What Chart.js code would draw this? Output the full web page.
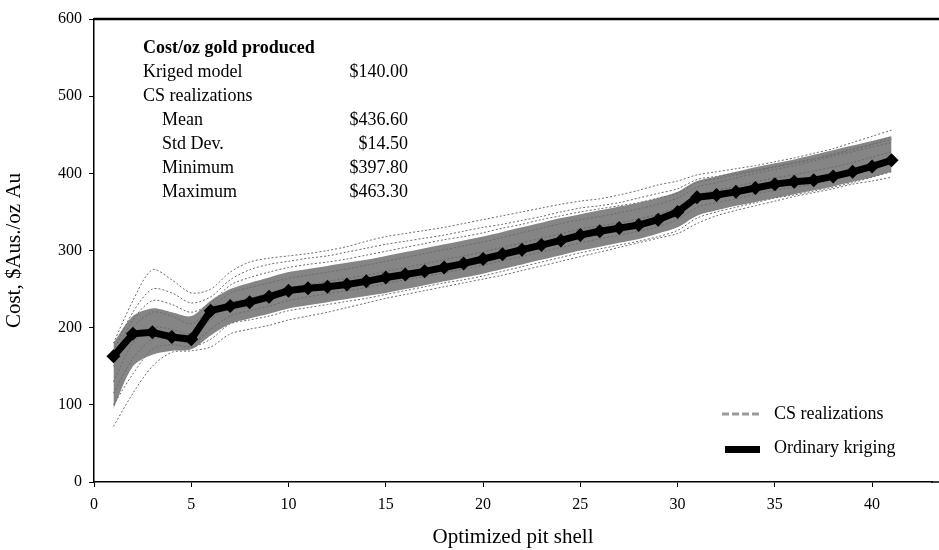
<!DOCTYPE html>
<html>
<head>
<meta charset="utf-8">
<title>Cost per oz gold produced</title>
<script src="https://cdn.jsdelivr.net/npm/chart.js@4.4.1/dist/chart.umd.min.js"></script>
<style>
  html, body { margin: 0; padding: 0; background: #fff; }
  #wrap { width: 939px; height: 550px; position: relative; }
</style>
</head>
<body>
<div id="wrap"><canvas id="costChart" width="939" height="550"></canvas></div>
<script>
// pit shell numbers
const shells = [1,2,3,4,5,6,7,8,9,10,11,12,13,14,15,16,17,18,19,20,21,22,23,24,25,26,27,28,29,30,31,32,33,34,35,36,37,38,39,40,41];

// ordinary kriging cost ($Aus/oz)
const kriging = [163,192,194,188,185,222,228,233,240,248,251,253,256,260,265,269,273,278,283,289,295,301,307,313,320,325,329,333,340,350,369,372,376,381,386,389,391,396,402,409,417];

// dense core of the CS realizations (upper / lower edge)
const bandHigh = [180,215,225,220,215,235,250,258,265,272,276,280,284,288,293,298,303,308,313,318,324,330,336,342,347,352,357,362,368,376,390,396,402,408,413,418,424,430,436,442,448];
const bandLow  = [95,150,165,170,172,190,205,212,218,225,229,233,237,241,245,250,255,260,265,270,276,282,288,294,300,305,310,315,322,330,345,352,358,363,368,373,378,383,389,395,402];

// single CS realizations
const realTop = [180,235,275,262,245,250,272,285,290,293,296,300,305,312,318,322,326,330,335,340,345,350,355,360,364,367,372,378,385,390,398,402,406,410,415,420,426,432,440,448,456];
const real2 = [170,220,250,245,232,240,262,275,282,286,290,293,298,303,308,312,316,320,325,330,334,339,344,350,355,358,362,368,374,380,392,396,400,404,408,413,418,424,430,437,444];
const real3 = [160,210,235,230,220,232,255,265,272,278,282,285,289,294,299,304,309,314,318,323,329,334,340,345,350,354,358,362,368,374,388,393,398,403,409,414,419,425,432,438,448];
const real4 = [150,200,220,215,205,225,245,252,258,264,268,272,276,281,286,291,296,301,306,311,317,323,329,335,340,344,349,354,360,368,382,388,394,400,405,410,416,422,428,434,440];
const real5 = [130,180,200,198,192,210,232,238,245,252,256,260,264,268,273,278,283,288,293,298,304,310,316,322,328,332,336,341,347,356,372,378,383,389,394,398,403,408,414,421,428];
const real6 = [115,160,185,185,180,198,215,222,228,235,240,244,248,252,257,262,266,271,276,281,287,292,298,304,310,315,320,325,331,340,356,362,367,373,378,382,386,392,398,405,412];
const real7 = [100,140,172,178,175,185,205,210,215,222,226,230,234,238,243,248,253,258,262,267,273,279,285,291,297,302,307,312,318,326,342,350,356,362,368,372,377,382,388,395,402];
const realLow = [72,115,150,168,170,175,192,198,203,210,215,220,226,232,238,243,248,253,258,263,268,274,280,286,292,298,304,310,316,322,335,345,352,358,364,370,375,380,386,390,395];

const yTicks = [0,100,200,300,400,500,600];
const xTicks = [0,5,10,15,20,25,30,35,40];

const statLabels = ['Kriged model', 'CS realizations', 'Mean', 'Std Dev.', 'Minimum', 'Maximum'];
const statValues = ['$140.00', '', '$436.60', '$14.50', '$397.80', '$463.30'];

const serif = '"Liberation Serif", "Times New Roman", serif';

function pts(arr) {
    return shells.map((s, i) => ({ x: s, y: arr[i] }));
}

function realization(arr) {
    return {
        data: pts(arr),
        borderColor: '#6a6a6a',
        borderWidth: 1,
        borderDash: [2, 2],
        pointRadius: 0,
        tension: 0.3,
        fill: false,
        order: 1
    };
}

// stats box, legend and frame lines
const extras = {
    id: 'extras',
    afterDraw(chart) {
        const ctx = chart.ctx;
        const area = chart.chartArea;
        const w = chart.width;
        ctx.save();

        // top frame line at 600 and the x axis running to the edge
        ctx.strokeStyle = '#000';
        ctx.lineWidth = 2.5;
        ctx.beginPath();
        ctx.moveTo(area.left, area.top);
        ctx.lineTo(w, area.top);
        ctx.stroke();
        ctx.lineWidth = 1.5;
        ctx.beginPath();
        ctx.moveTo(area.right - 1, area.bottom);
        ctx.lineTo(w, area.bottom);
        ctx.stroke();

        ctx.fillStyle = '#000';
        ctx.textBaseline = 'alphabetic';
        ctx.font = 'bold 18px ' + serif;
        ctx.textAlign = 'left';
        ctx.fillText('Cost/oz gold produced', 143, 53);

        ctx.font = '18px ' + serif;
        statLabels.forEach((lab, i) => {
            const y = 77 + i * 24;
            const x = i < 2 ? 143 : 162;
            ctx.textAlign = 'left';
            ctx.fillText(lab, x, y);
            if (statValues[i]) {
                ctx.textAlign = 'right';
                ctx.fillText(statValues[i], 408, y);
            }
        });

        // legend
        ctx.strokeStyle = '#9a9a9a';
        ctx.lineWidth = 3;
        ctx.setLineDash([7, 3]);
        ctx.beginPath();
        ctx.moveTo(722, 414);
        ctx.lineTo(762, 414);
        ctx.stroke();
        ctx.setLineDash([]);
        ctx.fillRect(725, 446, 35, 7);

        ctx.textAlign = 'left';
        ctx.fillText('CS realizations', 774, 419);
        ctx.fillText('Ordinary kriging', 774, 453);
        ctx.restore();
    }
};

const ctx = document.getElementById('costChart');
new Chart(ctx, {
    type: 'line',
    data: {
        datasets: [
            {
                label: 'Ordinary kriging',
                data: pts(kriging),
                borderColor: '#000',
                backgroundColor: '#000',
                borderWidth: 7,
                pointStyle: 'rectRot',
                pointRadius: 7,
                pointBorderWidth: 0,
                fill: false,
                order: 0
            },
            {
                label: 'band high',
                data: pts(bandHigh),
                borderColor: 'rgba(0,0,0,0)',
                borderWidth: 0,
                pointRadius: 0,
                tension: 0.3,
                fill: false,
                order: 2
            },
            {
                label: 'band low',
                data: pts(bandLow),
                borderColor: 'rgba(0,0,0,0)',
                backgroundColor: '#858585',
                borderWidth: 0,
                pointRadius: 0,
                tension: 0.3,
                fill: '-1',
                order: 2
            },
            realization(realTop),
            realization(real2),
            realization(real3),
            realization(real4),
            realization(real5),
            realization(real6),
            realization(real7),
            realization(realLow)
        ]
    },
    options: {
        responsive: false,
        animation: false,
        devicePixelRatio: 1,
        layout: { padding: { top: 19, right: 0, left: 0, bottom: 0 } },
        plugins: {
            legend: { display: false },
            tooltip: { enabled: false }
        },
        scales: {
            x: {
                type: 'linear',
                min: 0,
                max: 43.08,
                afterFit: function (scale) { scale.height = 68; },
                afterBuildTicks: function (scale) { scale.ticks = xTicks.map(v => ({ value: v })); },
                border: { color: '#000', width: 1.5 },
                grid: { drawOnChartArea: false, drawTicks: true, tickLength: 5, color: '#000' },
                ticks: { color: '#000', padding: 8, maxRotation: 0, font: { family: serif, size: 16 } },
                title: { display: true, text: 'Optimized pit shell', color: '#000', padding: { top: 0, bottom: 0 }, font: { family: serif, size: 21 } }
            },
            y: {
                min: 0,
                max: 600,
                afterFit: function (scale) { scale.width = 94; },
                afterBuildTicks: function (scale) { scale.ticks = yTicks.map(v => ({ value: v })); },
                border: { color: '#000', width: 1.5 },
                grid: { drawOnChartArea: false, drawTicks: true, tickLength: 5, color: '#000' },
                ticks: { color: '#000', padding: 7, font: { family: serif, size: 16 } },
                title: { display: true, text: 'Cost, $Aus./oz Au', color: '#000', padding: { top: 2, bottom: 0 }, font: { family: serif, size: 21 } }
            }
        }
    },
    plugins: [extras]
});
</script>
</body>
</html>
